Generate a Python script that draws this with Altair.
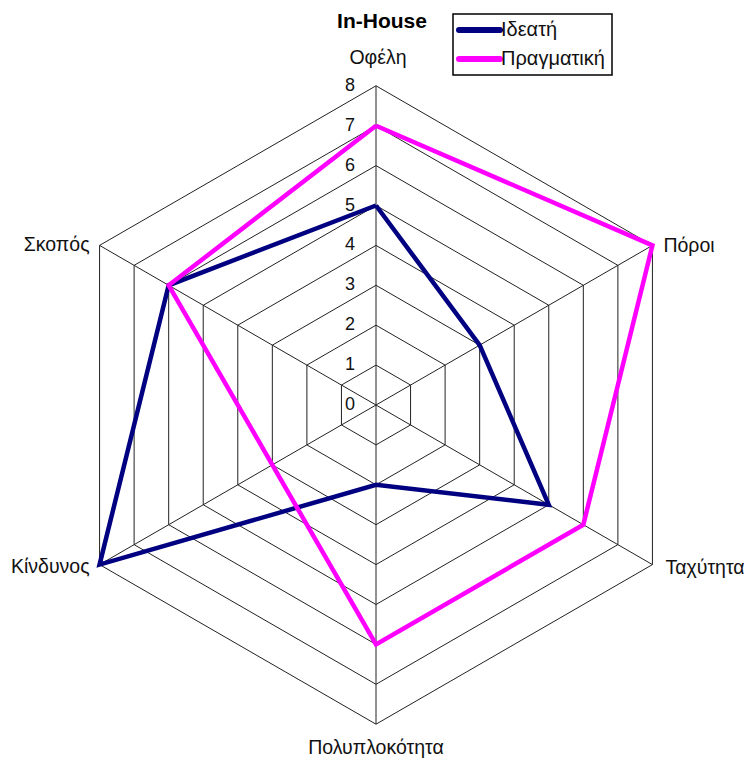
import altair as alt
import pandas as pd

categories = ["Οφέλη", "Πόροι", "Ταχύτητα", "Πολυπλοκότητα", "Κίνδυνος", "Σκοπός"]
ideal = [5, 3, 5, 2, 8, 6]
actual = [7, 8, 6, 6, 3, 6]
series_names = ["Ιδεατή", "Πραγματική"]
series_colors = ["#000080", "#FF00FF"]
tick_values = [0, 1, 2, 3, 4, 5, 6, 7, 8]
chart_title = "In-House"

FONT = "Liberation Sans"
n = len(categories)
rmax = max(tick_values)

# geometry: page margin 8, top padding 6 -> plot origin at page (8, 14)
PAD_TOP = 6
OX, OY = 8, 8 + PAD_TOP
W, H = 736, 763 - OY
k = 39.9
cx, cy = 376 - OX, 405 - OY
xdom = [-cx / k, (W - cx) / k]
ydom = [-(H - cy) / k, cy / k]
xs = alt.Scale(domain=xdom, nice=False, zero=False)
ys = alt.Scale(domain=ydom, nice=False, zero=False)

# series table
rows = []
for s, vals in zip(series_names, [ideal, actual]):
    for i in range(n + 1):
        rows.append({"series": s, "idx": i, "cat": categories[i % n], "r": vals[i % n]})
series_df = pd.DataFrame(rows)

# grid rings
ring_rows = []
for ring in tick_values[1:]:
    for i in range(n + 1):
        ring_rows.append({"ring": ring, "idx": i, "r": ring})
ring_df = pd.DataFrame(ring_rows)

spoke_df = pd.DataFrame({"idx": list(range(n)), "r": [rmax] * n})
cat_df = pd.DataFrame({"cat": categories, "idx": list(range(n)), "r": [rmax] * n})
tick_df = pd.DataFrame({"v": tick_values})

calc = dict(
    x="datum.r * sin(datum.idx * 2 * PI / %d)" % n,
    y="datum.r * cos(datum.idx * 2 * PI / %d)" % n,
)

grid = alt.Chart(ring_df).transform_calculate(**calc).mark_line(
    color="#222222", strokeWidth=1
).encode(
    x=alt.X("x:Q", scale=xs, axis=None),
    y=alt.Y("y:Q", scale=ys, axis=None),
    detail="ring:N",
    order="idx:Q",
)

spokes = alt.Chart(spoke_df).transform_calculate(**calc).transform_calculate(
    x0="0", y0="0"
).mark_rule(color="#222222", strokeWidth=1).encode(
    x=alt.X("x0:Q", scale=xs, axis=None),
    y=alt.Y("y0:Q", scale=ys, axis=None),
    x2="x:Q",
    y2="y:Q",
)

def series_layer(name, color):
    return alt.Chart(series_df).transform_filter(
        alt.datum.series == name
    ).transform_calculate(**calc).mark_line(
        color=color, strokeWidth=4.5, strokeJoin="miter"
    ).encode(
        x=alt.X("x:Q", scale=xs, axis=None),
        y=alt.Y("y:Q", scale=ys, axis=None),
        order="idx:Q",
    )

lines = [series_layer(s, c) for s, c in zip(series_names, series_colors)]

ticks = alt.Chart(tick_df).transform_calculate(x0="0").mark_text(
    font=FONT, fontSize=18, align="right", baseline="middle", dx=-21, color="#111111"
).encode(
    x=alt.X("x0:Q", scale=xs, axis=None),
    y=alt.Y("v:Q", scale=ys, axis=None),
    text="v:Q",
)

label_style = {
    0: dict(align="center", dx=2, dy=-28),
    1: dict(align="left", dx=11, dy=1),
    2: dict(align="left", dx=13, dy=3),
    3: dict(align="center", dx=0, dy=24),
    4: dict(align="right", dx=-10, dy=2),
    5: dict(align="right", dx=-10, dy=0),
}
cat_layers = []
for i, st in label_style.items():
    cat_layers.append(
        alt.Chart(cat_df).transform_filter(alt.datum.idx == i).transform_calculate(**calc).mark_text(
            font=FONT, fontSize=19.5, baseline="middle", color="#111111", **st
        ).encode(
            x=alt.X("x:Q", scale=xs, axis=None),
            y=alt.Y("y:Q", scale=ys, axis=None),
            text="cat:N",
        )
    )

# title (page coords converted to plot coords)
title = alt.Chart(pd.DataFrame({"t": [chart_title]})).mark_text(
    font=FONT, fontSize=21, fontWeight="bold", align="center", baseline="alphabetic", color="#000000"
).encode(x=alt.value(382 - OX), y=alt.value(28 - OY), text="t:N")

# legend (manual), page coords converted to plot coords
leg_box = alt.Chart(pd.DataFrame({"a": [0]})).mark_rect(
    fill="#ffffff", stroke="#000000", strokeWidth=1.5
).encode(x=alt.value(453 - OX), x2=alt.value(612 - OX), y=alt.value(14 - OY), y2=alt.value(75 - OY))
leg_lines = []
leg_texts = []
for i, (s, c) in enumerate(zip(series_names, series_colors)):
    yy = 30 + i * 29 - OY
    leg_lines.append(
        alt.Chart(pd.DataFrame({"a": [0]})).mark_rule(color=c, strokeWidth=6, strokeCap="round").encode(
            x=alt.value(459 - OX), x2=alt.value(500 - OX), y=alt.value(yy)
        )
    )
    leg_texts.append(
        alt.Chart(pd.DataFrame({"t": [s]})).mark_text(
            font=FONT, fontSize=20, align="left", baseline="middle", color="#111111"
        ).encode(x=alt.value(501 - OX), y=alt.value(yy), text="t:N")
    )

chart = alt.layer(
    grid, spokes, *lines, ticks, *cat_layers, title, leg_box, *leg_lines, *leg_texts
).properties(
    width=W, height=H,
    padding={"top": PAD_TOP, "left": 0, "right": 0, "bottom": 0},
    autosize=alt.AutoSizeParams(type="none"),
).configure_view(stroke=None)

chart.save("out.html", embed_options={"renderer": "svg", "actions": False})
